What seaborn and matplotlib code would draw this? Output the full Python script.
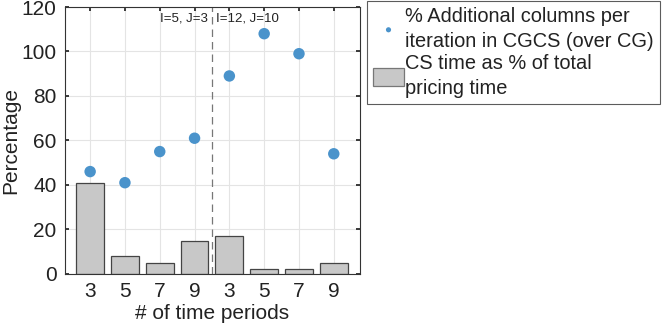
import numpy as np
import pandas as pd
import seaborn as sns
import matplotlib.pyplot as plt

# --- data ---
period_labels = ["3", "5", "7", "9", "3", "5", "7", "9"]
extra_columns_pct = [46, 41, 55, 61, 89, 108, 99, 54]
cs_time_pct = [41, 8, 5, 15, 17, 2, 2, 5]
group_labels = ["I=5, J=3", "I=12, J=10"]

positions = np.arange(1, len(period_labels) + 1)
df = pd.DataFrame({"pos": positions, "extra": extra_columns_pct, "cs": cs_time_pct})

sns.set_theme(style="white")
plt.rcParams["font.family"] = ["Liberation Sans", "DejaVu Sans"]

fig = plt.figure(figsize=(6.64, 3.34), dpi=100)
ax = fig.add_axes([0.098, 0.18, 0.444, 0.799])

sns.barplot(data=df, x="pos", y="cs", native_scale=True, width=0.8,
            color="#c8c8c8", edgecolor="#444444", linewidth=0.9,
            saturation=1, ax=ax, label="CS time as % of total\npricing time", zorder=2)
sns.scatterplot(data=df, x="pos", y="extra", color="#4a93cb", s=68,
                edgecolor="none", ax=ax, zorder=3,
                label="% Additional columns per\niteration in CGCS (over CG)")

# separator between the two instance groups
ax.axvline(4.5, color="#777777", linestyle=(0, (6, 4)), linewidth=0.9, zorder=1)
ax.text(4.37, 115, group_labels[0], ha="right", va="center", fontsize=9.5, color="#222222")
ax.text(4.63, 115, group_labels[1], ha="left", va="center", fontsize=9.5, color="#222222")

ax.set_xlim(0.28, 8.75)
ax.set_ylim(0, 120)
ax.set_xticks(positions)
ax.set_xticklabels(period_labels)
ax.set_yticks(np.arange(0, 121, 20))
ax.tick_params(direction="in", length=3, labelsize=15, colors="#222222",
               top=True, right=True, bottom=True, left=True, pad=6)
ax.grid(True, color="#e4e4e4", linewidth=0.8, zorder=0)
ax.set_axisbelow(True)
for sp in ax.spines.values():
    sp.set_color("#333333")
    sp.set_linewidth(0.8)

ax.set_xlabel("# of time periods", fontsize=15, color="#222222", labelpad=2)
ax.set_ylabel("Percentage", fontsize=15, color="#222222", labelpad=1)

handles, labels = ax.get_legend_handles_labels()
order = [labels.index(l) for l in labels if l.startswith("%")] + \
        [labels.index(l) for l in labels if l.startswith("CS")]
leg = fig.legend([handles[i] for i in order], [labels[i] for i in order],
                 loc="upper left", bbox_to_anchor=(367 / 664, 1 - 1 / 334),
                 bbox_transform=fig.transFigure, borderaxespad=0,
                 fontsize=14.4, frameon=True, fancybox=False, markerscale=0.45,
                 handlelength=1.55, handleheight=1.0, handletextpad=0.05,
                 labelspacing=0.15, borderpad=0.3)
for t in leg.get_texts():
    t.set_linespacing(1.4)
    t.set_color("#222222")
leg.get_frame().set_edgecolor("#333333")
leg.get_frame().set_linewidth(0.8)
for h in leg.legend_handles:
    if hasattr(h, "set_edgecolor") and not hasattr(h, "get_offsets"):
        h.set_edgecolor("#777777")
if ax.get_legend() is not None:
    ax.get_legend().remove()

fig.savefig("out.png", dpi=100)
